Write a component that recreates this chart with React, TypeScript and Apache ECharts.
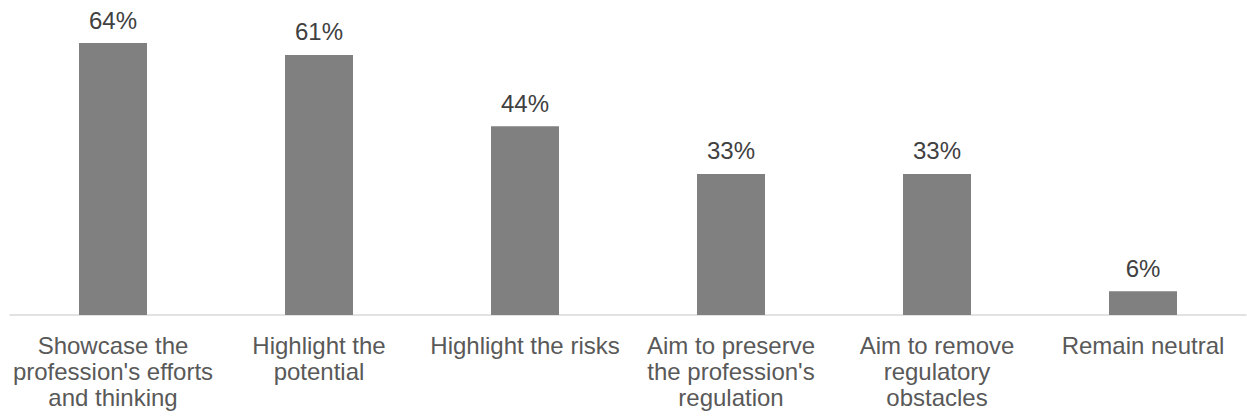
import React, { useEffect, useRef } from "react";
import * as echarts from "echarts";

const categories = [
  "Showcase the\nprofession's efforts\nand thinking",
  "Highlight the\npotential",
  "Highlight the risks",
  "Aim to preserve\nthe profession's\nregulation",
  "Aim to remove\nregulatory\nobstacles",
  "Remain neutral",
];
const values = [64.0, 61.2, 44.4, 33.2, 33.2, 5.6];

export default function App() {
  const ref = useRef<HTMLDivElement>(null);
  useEffect(() => {
    if (!ref.current) return;
    const chart = echarts.init(ref.current, null, { renderer: "svg" });
    const font = "'Liberation Sans', Arial, Helvetica, sans-serif";
    chart.setOption({
      animation: false,
      grid: { left: 10, right: 1, top: 17.5, bottom: 101, containLabel: false },
      xAxis: {
        type: "category",
        data: categories,
        axisLine: { show: true, lineStyle: { color: "#d9d9d9", width: 1.5 } },
        axisTick: { show: false },
        axisLabel: {
          interval: 0,
          color: "#595959",
          fontSize: 24,
          fontFamily: font,
          lineHeight: 26,
          margin: 17,
          align: "center",
        },
      },
      yAxis: {
        type: "value",
        min: 0,
        max: 70,
        show: false,
        splitLine: { show: false },
      },
      series: [
        {
          type: "bar",
          data: values,
          barWidth: 68,
          itemStyle: { color: "#808080" },
          label: {
            show: true,
            position: "top",
            distance: 11,
            color: "#404040",
            fontSize: 24,
            fontFamily: font,
            formatter: (p: any) => Math.round(p.value) + "%",
          },
        },
      ],
    });
    return () => chart.dispose();
  }, []);
  return (
    <div
      ref={ref}
      style={{ position: "absolute", left: 0, top: 0, width: 1247, height: 416 }}
    />
  );
}
